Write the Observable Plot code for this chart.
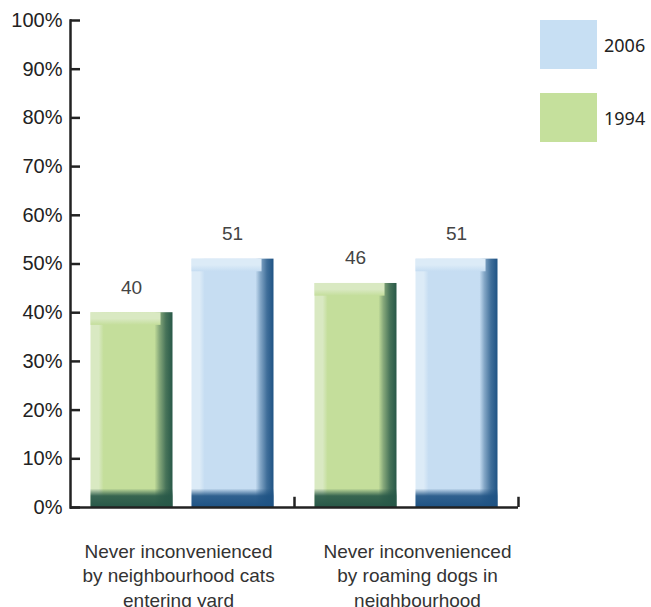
<!DOCTYPE html>
<html><head><meta charset="utf-8">
<script src="https://cdn.jsdelivr.net/npm/d3@7"></script>
<script src="https://cdn.jsdelivr.net/npm/@observablehq/plot@0.6"></script>
<style>
body{margin:0;background:#fff}
#wrap{position:relative;width:651px;height:607px;overflow:hidden;background:#fff}
.sw{position:absolute;width:57px;height:49px}
.lt{position:absolute;font-family:"Noto Sans","Open Sans",sans-serif;font-size:18px;color:#222;line-height:20px}
</style></head><body><div id="wrap"></div>
<script>
const categories = ["Never inconvenienced\nby neighbourhood cats\nentering yard", "Never inconvenienced\nby roaming dogs in\nneighbourhood"];
const years = ["2006", "1994"];
const values1994 = [40, 46];
const values2006 = [51, 51];
const yTicks = [0, 10, 20, 30, 40, 50, 60, 70, 80, 90, 100];

const rows1994 = categories.map((c, i) => ({cat: c, value: values1994[i]}));
const rows2006 = categories.map((c, i) => ({cat: c, value: values2006[i]}));

const palette = {
  "1994": {light: "#d9e9c2", base: "#c4de9b", dark: "#285848", swatch: "#c5e09c"},
  "2006": {light: "#dcebf7", base: "#c6ddf2", dark: "#1f5384", swatch: "#c7dff3"}
};

const font = "'Liberation Sans', Arial, Helvetica, sans-serif";
const ins1994 = {insetLeft: 20.5, insetRight: 121.5};
const ins2006 = {insetLeft: 121.5, insetRight: 20.5};

function barSet(rows, yr, ins) {
  const k = yr === "1994" ? "g" : "b";
  return [
    Plot.barY(rows, {x: "cat", y: "value", fill: `url(#h${k})`, ...ins}),
    Plot.barY(rows, {x: "cat", y1: d => d.value - 2.6, y2: "value", fill: `url(#t${k})`, insetLeft: ins.insetLeft, insetRight: ins.insetRight + 12}),
    Plot.barY(rows, {x: "cat", y1: 0, y2: 3.8, fill: `url(#d${k})`, ...ins}),
    Plot.text(rows, {x: "cat", y: "value", text: d => String(d.value), dx: yr === "1994" ? -51 : 50, dy: -19, lineAnchor: "bottom", fontSize: 19, fill: "#444", fontFamily: font})
  ];
}

const chart = Plot.plot({
  width: 651,
  height: 607,
  marginLeft: 70,
  marginRight: 133,
  marginTop: 20,
  marginBottom: 100,
  style: {fontFamily: font, background: "#fff", overflow: "hidden"},
  x: {domain: categories, padding: 0, axis: null},
  y: {domain: [0, 100], axis: null},
  marks: [
    ...barSet(rows1994, "1994", ins1994),
    ...barSet(rows2006, "2006", ins2006),
    Plot.axisY({ticks: yTicks, tickFormat: d => d + "%", tickSize: 0, tickPadding: 8, fontSize: 20, fill: "#222", label: null}),
    Plot.ruleY(yTicks, {y: d => d, insetRight: 438, stroke: "#222", strokeWidth: 2.5}),
    Plot.frame({anchor: "left", stroke: "#222", strokeWidth: 2.5}),
    Plot.ruleY([0], {stroke: "#222", strokeWidth: 2.5}),
    Plot.ruleX(categories, {x: d => d, y1: 0, y2: 2.1, dx: 112, stroke: "#222", strokeWidth: 2.5}),
    Plot.text([categories[0]], {x: d => d, text: d => d, frameAnchor: "bottom", lineAnchor: "top", dy: 33, dx: -4, fontSize: 19, lineHeight: 1.29, fill: "#333", fontFamily: font}),
    Plot.text([categories[1]], {x: d => d, text: d => d, frameAnchor: "bottom", lineAnchor: "top", dy: 33, dx: 11, fontSize: 19, lineHeight: 1.29, fill: "#333", fontFamily: font})
  ]
});

// gradients
const svg = d3.select(chart);
const defs = svg.insert("defs", ":first-child");
function grad(id, vertical, stops) {
  const g = defs.append("linearGradient").attr("id", id)
    .attr("x1", 0).attr("y1", 0).attr("x2", vertical ? 0 : 1).attr("y2", vertical ? 1 : 0);
  stops.forEach(([o, c, op]) => g.append("stop").attr("offset", o).attr("stop-color", c).attr("stop-opacity", op == null ? 1 : op));
}
for (const [k, yr] of [["g", "1994"], ["b", "2006"]]) {
  const p = palette[yr];
  grad("h" + k, false, [[0, p.light], [0.1, p.light], [0.16, p.base], [0.78, p.base], [0.84, d3.interpolateRgb(p.base, p.dark)(0.4)], [0.92, d3.interpolateRgb(p.base, p.dark)(0.8)], [1, p.dark]]);
  grad("t" + k, true, [[0, p.light], [0.5, p.light], [1, p.base]]);
  grad("d" + k, true, [[0, p.dark, 0], [0.4, p.dark, 0.9], [1, p.dark]]);
}

const wrap = document.getElementById("wrap");
wrap.appendChild(chart);
const legTop = {"2006": 20, "1994": 93};
for (const yr of years) {
  const s = document.createElement("div");
  s.className = "sw"; s.style.left = "540px"; s.style.top = legTop[yr] + "px"; s.style.background = palette[yr].swatch;
  wrap.appendChild(s);
  const t = document.createElement("div");
  t.className = "lt"; t.style.left = "604px"; t.style.top = (legTop[yr] + 15) + "px"; t.textContent = yr;
  wrap.appendChild(t);
}
</script></body></html>
